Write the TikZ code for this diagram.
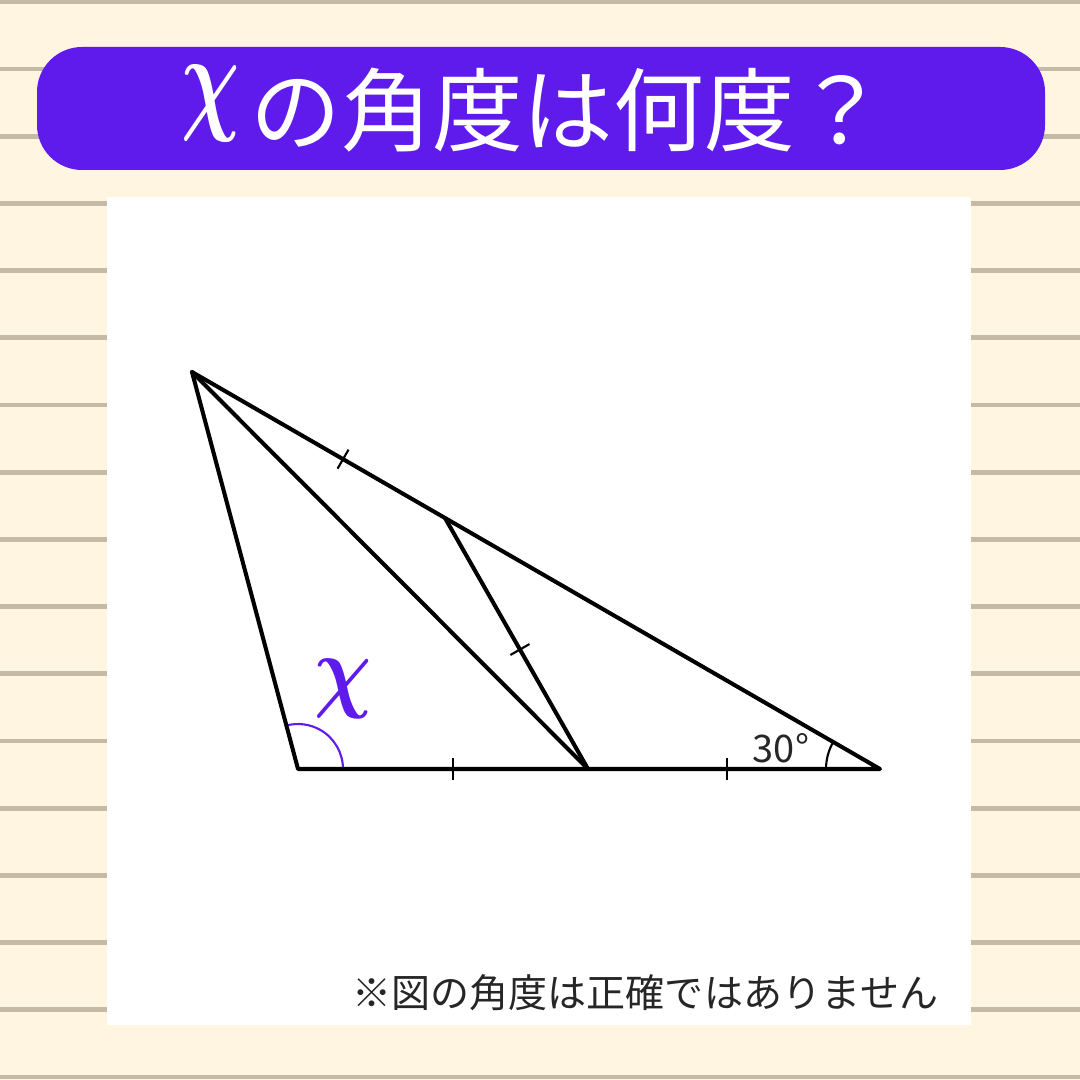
\documentclass[tikz,border=0pt]{standalone}
\usepackage{fix-cm}
\usepackage{amsmath}
\usepackage{fontspec}
\newfontfamily\jp[Kerning=Off]{Noto Sans CJK JP}
\usetikzlibrary{calc}
\definecolor{cream}{RGB}{255,245,224}
\definecolor{rule}{RGB}{196,186,166}
\definecolor{violet}{RGB}{95,27,235}
\tikzset{
  seg/.style={line width=1.15pt, line cap=round, line join=round},
  tickmark/.style={line width=0.6pt},
  arcmark/.style={line width=0.6pt},
  ruled/.style={rule, line width=1.4pt},
}
\begin{document}
\begin{tikzpicture}[x=0.01cm,y=-0.01cm]
\useasboundingbox (0,0) rectangle (1080,1080);
\fill[cream] (0,0) rectangle (1080,1080);
\foreach \k in {0,...,16} {
  \draw[ruled] (0,{1077-67.2*\k}) -- (1080,{1077-67.2*\k});
}
% banner
\fill[violet, rounded corners=0.45cm] (37,47) rectangle (1045,170);
\node[text=white, inner sep=0] (tx) at (211,104)
  {\scalebox{0.68}[1]{\fontsize{34}{34}\selectfont$\boldsymbol{\chi}$}};
\node[text=white, inner sep=0, anchor=west, font=\jp\fontsize{25.8}{25.8}\selectfont] (title) at (250,110) {の角度は何度？};
% panel
\fill[white] (107,197) rectangle (971,1025);
% geometry
\coordinate (A) at (192,372);
\coordinate (B) at (298,769);
\coordinate (C) at (880,769);
\coordinate (D) at (588,769);
\coordinate (E) at (445,518);
% angle arcs
\draw[arcmark, violet] ($(B)+(45,0)$) arc[start angle=0, end angle=-104.95, radius=45];
\draw[arcmark] ($(C)+(-54,0)$) arc[start angle=180, end angle=210, radius=54];
% segments
\draw[seg] (A) -- (B) -- (C) -- cycle;
\draw[seg] (A) -- (D);
\draw[seg] (D) -- (E);
% ticks
\coordinate (t1) at ($(A)!0.597!(E)$);
\coordinate (t2) at ($(D)!0.476!(E)$);
\coordinate (t3) at ($(B)!0.534!(D)$);
\coordinate (t4) at ($(D)!0.476!(C)$);
\draw[tickmark] ($(t1)!0.11cm!90:(E)$) -- ($(t1)!0.11cm!-90:(E)$);
\draw[tickmark] ($(t2)!0.11cm!90:(E)$) -- ($(t2)!0.11cm!-90:(E)$);
\draw[tickmark] ($(t3)!0.11cm!90:(D)$) -- ($(t3)!0.11cm!-90:(D)$);
\draw[tickmark] ($(t4)!0.11cm!90:(C)$) -- ($(t4)!0.11cm!-90:(C)$);
% labels
\node[text=violet, inner sep=0] (xl) at (343,689)
  {\scalebox{0.86}[1]{\fontsize{26.4}{26.4}\selectfont$\boldsymbol{\chi}$}};
\node[inner sep=0, font=\jp\fontsize{10.8}{10.8}\selectfont, text=black!85] (ang) at (781,748) {30°};
\node[inner sep=0, anchor=west, font=\jp\fontsize{11.1}{11.1}\selectfont, text=black!85] (note) at (352,993) {※図の角度は正確ではありません};
\end{tikzpicture}
\end{document}
